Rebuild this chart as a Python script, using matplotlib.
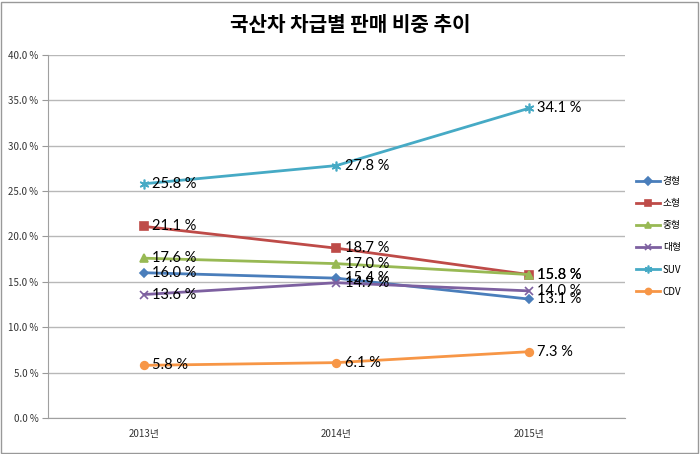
import matplotlib
matplotlib.use('Agg')
import matplotlib.pyplot as plt
from matplotlib.patches import Rectangle
from matplotlib.ticker import FuncFormatter

plt.rcParams['font.family'] = ['Noto Sans CJK KR', 'DejaVu Sans']

years = ['2013년', '2014년', '2015년']
light = [16.0, 15.4, 13.1]
small = [21.1, 18.7, 15.8]
mid = [17.6, 17.0, 15.8]
large = [13.6, 14.9, 14.0]
suv = [25.8, 27.8, 34.1]
cdv = [5.8, 6.1, 7.3]

series = [
    ('경형', light, '#4A7EBB', 'D', 4.5),
    ('소형', small, '#BE4B48', 's', 5.5),
    ('중형', mid, '#98B954', '^', 5.5),
    ('대형', large, '#7D60A0', 'x', 6),
    ('SUV', suv, '#46AAC5', (6, 2, 0), 7),
    ('CDV', cdv, '#F79646', 'o', 5.5),
]

fig = plt.figure(figsize=(7, 4.54), dpi=100)
ax = fig.add_axes([0.0686, 0.0793, 0.824, 0.800])

x = list(range(len(years)))
for name, vals, color, marker, ms in series:
    ax.plot(x, vals, color=color, lw=2, marker=marker, ms=ms, mew=1.2,
            markeredgecolor=color, label=name)
    for xi, v in zip(x, vals):
        ax.annotate(f'{v:.1f} %', (xi, v), xytext=(6, 0), textcoords='offset points',
                    ha='left', va='center', fontsize=10.5, family=['Lato', 'DejaVu Sans'])

ax.set_xlim(-0.5, 2.5)
ax.set_ylim(0, 40)
ax.set_yticks(range(0, 41, 5))
ax.yaxis.set_major_formatter(FuncFormatter(lambda v, p: f'{v:.1f} %'))
ax.set_xticks(x)
ax.set_xticklabels(years)
ax.tick_params(axis='both', labelsize=7, colors='#333333', length=0, pad=8)
ax.tick_params(axis='y', length=4, color='#999999', direction='out', pad=3)
ax.grid(axis='y', color='#B8B8B8', lw=1)
ax.set_axisbelow(True)
for s in ['top', 'right']:
    ax.spines[s].set_visible(False)
for s in ['left', 'bottom']:
    ax.spines[s].set_color('#A0A0A0')

fig.suptitle('국산차 차급별 판매 비중 추이', x=0.5, y=0.97, fontsize=14.5, fontweight='bold')

ax.legend(loc='center left', bbox_to_anchor=(1.005, 0.5), frameon=False, fontsize=7,
          handlelength=2.4, labelspacing=1.25, handletextpad=0.3, markerscale=0.8)

fig.patches.append(Rectangle((0.002, 0.003), 0.995, 0.993, transform=fig.transFigure,
                             fill=False, edgecolor='#999999', lw=1))

fig.savefig('out.png', dpi=100)
